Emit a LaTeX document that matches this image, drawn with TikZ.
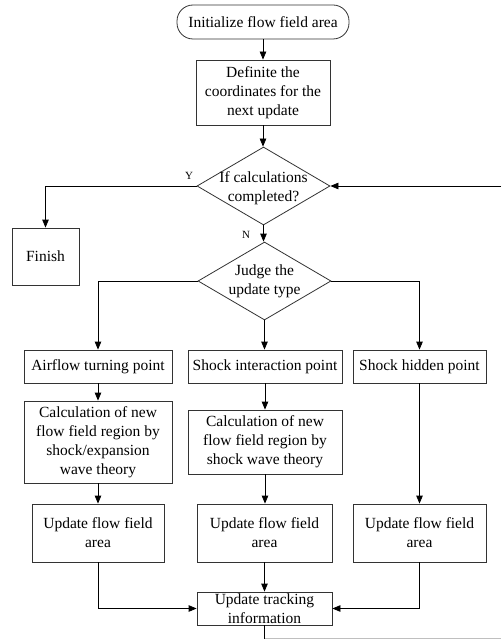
\documentclass[tikz,border=0pt]{standalone}
\usepackage{fontspec}
\setmainfont{Liberation Serif}
\usetikzlibrary{shapes.geometric,arrows.meta}
\begin{document}
\begin{tikzpicture}[x=1pt,y=-1pt,
  every node/.style={font=\fontsize{15.5}{19}\selectfont},
  box/.style={draw=black!80,line width=0.8pt,rectangle,inner sep=0pt,align=center},
  term/.style={box,rounded corners=16pt},
  dia/.style={draw=black!80,line width=0.8pt,diamond,inner sep=0pt,aspect=1.7},
  txt/.style={align=center,inner sep=0pt},
  lab/.style={font=\fontsize{11}{13}\selectfont,inner sep=0pt},
  arr/.style={line width=0.8pt,-{Triangle[length=8pt,width=6.5pt]}},
  ln/.style={line width=0.8pt}]
\useasboundingbox (0,0) rectangle (501,639);
\fill[white] (0,0) rectangle (501,639);
% nodes
\node[term,minimum width=172pt,minimum height=34pt] (init) at (263,22) {Initialize flow field area};
\node[box,minimum width=134pt,minimum height=65pt] (def) at (263,92.5) {Definite the\\coordinates for the\\next update};
\node[dia,minimum width=133pt,minimum height=78pt] (d1) at (263.5,186) {};
\node[txt] (d1t) at (263.5,188) {If calculations\\completed?};
\node[box,minimum width=67pt,minimum height=57pt] (fin) at (45.5,256.5) {Finish};
\node[dia,minimum width=133pt,minimum height=78pt] (d2) at (264.5,281) {};
\node[txt] (d2t) at (264.5,281) {Judge the\\update type};
\node[box,minimum width=148pt,minimum height=33pt] (a1) at (98,366.5) {Airflow turning point};
\node[box,minimum width=154pt,minimum height=33pt] (a2) at (265,366.5) {Shock interaction point};
\node[box,minimum width=133pt,minimum height=33pt] (a3) at (419.5,366.5) {Shock hidden point};
\node[box,minimum width=148pt,minimum height=82pt] (c1) at (98,442) {Calculation of new\\flow field region by\\shock/expansion\\wave theory};
\node[box,minimum width=154pt,minimum height=64pt] (c2) at (265,442) {Calculation of new\\flow field region by\\shock wave theory};
\node[box,minimum width=132pt,minimum height=58pt] (u1) at (98,533) {Update flow field\\area};
\node[box,minimum width=135pt,minimum height=58pt] (u2) at (264.5,533) {Update flow field\\area};
\node[box,minimum width=133pt,minimum height=58pt] (u3) at (419.5,533) {Update flow field\\area};
\node[box,minimum width=135pt,minimum height=33pt] (t) at (264.5,608.5) {};
\node[txt] (tt) at (264.5,609) {Update tracking\\information};
\node[lab] (ly) at (189,176) {Y};
\node[lab] (ln) at (246,235) {N};
\coordinate (rin) at (501,186);
\coordinate (bot) at (264.5,639);
\coordinate (bgr) at (501,638.5);
% connectors
\draw[arr] (init) -- (def);
\draw[arr] (def.south) -- (def.south |- d1.north);
\draw[arr] (d1.west) -| (fin.north);
\draw[arr] (rin) -- (d1.east);
\draw[arr] (d1.south) -- (d1.south |- d2.north);
\draw[arr] (d2.west) -| (a1.north);
\draw[arr] (d2.south) -- (d2.south |- a2.north);
\draw[arr] (d2.east) -| (a3.north);
\draw[arr] (a1) -- (c1);
\draw[arr] (c1) -- (u1);
\draw[arr] (a2.south) -- (a2.south |- c2.north);
\draw[arr] (c2.south) -- (c2.south |- u2.north);
\draw[arr] (a3) -- (u3);
\draw[arr] (u1.south) |- (t.west);
\draw[arr] (u2) -- (t);
\draw[arr] (u3.south) |- (t.east);
\draw[ln] (t.south) -- (bot);
\draw[ln,black!25] (bot |- bgr) -- (bgr);
\end{tikzpicture}
\end{document}
